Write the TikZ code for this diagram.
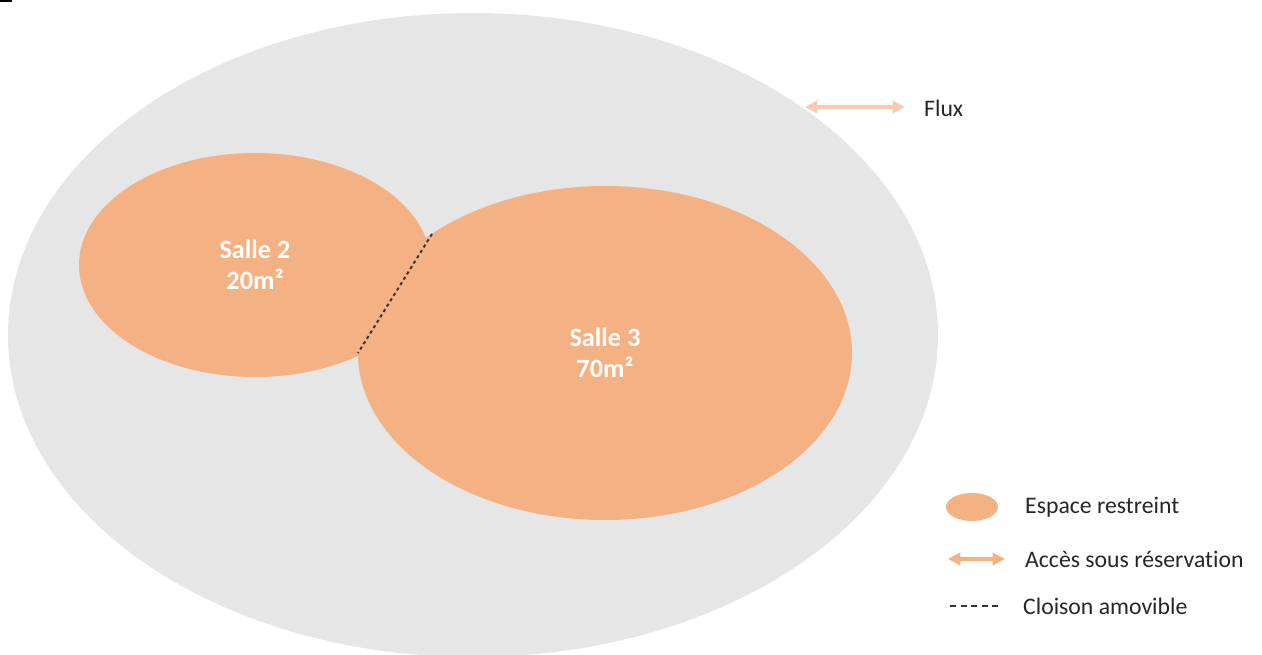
\documentclass[tikz,border=0pt]{standalone}
\usepackage{fontspec}
\setmainfont{Carlito}[Ligatures=NoCommon]
\usetikzlibrary{arrows.meta}
\definecolor{fondgris}{HTML}{E6E6E6}
\definecolor{salleorange}{HTML}{F4B183}
\definecolor{fluxorange}{HTML}{F8CBAD}

\tikzset{
  sallelabel/.style={align=center,text=white,font=\bfseries\fontsize{15}{17.6}\selectfont},
  legende/.style={anchor=west,text=black!85,font=\fontsize{13.5}{16}\selectfont},
  cloison/.style={black!80,line width=1.1pt,dash pattern=on 1.8pt off 1.8pt,line cap=butt},
}

\begin{document}
\begin{tikzpicture}[x=0.02cm,y=-0.02cm,>={Triangle[length=7pt,width=7pt]},line cap=round]
\useasboundingbox (0,0) rectangle (1262,655);
\begin{scope}
\clip (0,0) rectangle (1262,655);
\fill[fondgris] (473,335) ellipse [x radius=465,y radius=322];
\end{scope}
\draw[black,line width=1.2pt,line cap=butt] (0,1) -- (12,1);
% salles
\fill[salleorange] (255,265) ellipse [x radius=176,y radius=112];
\fill[salleorange] (605,353) ellipse [x radius=247,y radius=167];
\draw[cloison] (432,234) -- (358,353);
\node[sallelabel] (salle2) at (255,265) {Salle 2\\20m²};
\node[sallelabel] (salle3) at (605,353) {Salle 3\\70m²};
% flux
\coordinate (fluxA) at (805,107);
\coordinate (fluxB) at (905,107);
\draw[<->,fluxorange,line width=1.8pt] (fluxA) -- (fluxB);
\node[legende] (flux) at (918,108) {Flux};
% legende
\fill[salleorange] (972,507) ellipse [x radius=26,y radius=14];
\node[legende] (espace) at (1019,507) {Espace restreint};
\coordinate (accesA) at (948,559);
\coordinate (accesB) at (1005,559);
\draw[<->,salleorange,line width=1.8pt] (accesA) -- (accesB);
\node[legende] (acces) at (1019,559) {Accès sous réservation};
\coordinate (cloisonA) at (950,606);
\coordinate (cloisonB) at (998,606);
\draw[black!80,line width=0.8pt,dash pattern=on 3.5pt off 2.5pt,line cap=butt] (cloisonA) -- (cloisonB);
\node[legende] (amovible) at (1017,606) {Cloison amovible};
\end{tikzpicture}
\end{document}
